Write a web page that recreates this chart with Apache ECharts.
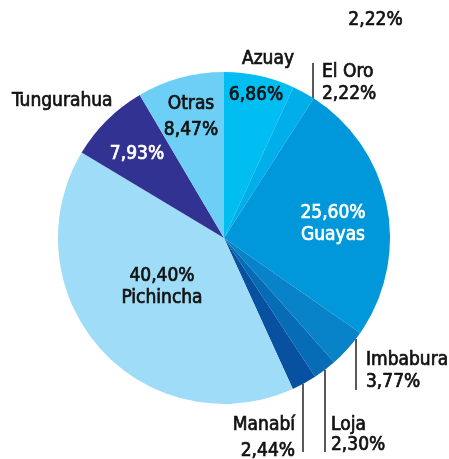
<!DOCTYPE html>
<html>
<head>
<meta charset="utf-8">
<script src="https://cdn.jsdelivr.net/npm/echarts@6/dist/echarts.min.js"></script>
<style>html,body{margin:0;padding:0;background:#fff}#c{width:449px;height:459px}</style>
</head>
<body>
<div id="c"></div>
<script>
const names = ['Azuay', 'El Oro', 'Guayas', 'Imbabura', 'Loja', 'Manabí', 'Pichincha', 'Tungurahua', 'Otras'];
const values = [6.86, 2.22, 25.60, 3.77, 2.30, 2.44, 40.40, 7.93, 8.47];
const colors = ['#00BEF2', '#00AFEA', '#0098DA', '#0882C8', '#066CB6', '#0850A0', '#9EDCF7', '#313292', '#6DCFF5'];
const strayLabel = '2,22%';

const FONT = '"DejaVu Sans Condensed", sans-serif';
const FS = 19;
const BW = 0.7;
const pct = v => v.toFixed(2).replace('.', ',') + '%';

const mainLayout = {
  'Azuay':      { x: 256, y: 95,  align: 'center', lh: 22, color: '#111', fmt: 'v' },
  'El Oro':     { x: 322, y: 83,  align: 'left',   lh: 22, color: '#111', fmt: 'nv', line: [[313, 99], [313, 81], [313, 63]] },
  'Guayas':     { x: 333, y: 224, align: 'center', lh: 22, color: '#fff', fmt: 'vn' },
  'Imbabura':   { x: 366, y: 371, align: 'left',   lh: 22, color: '#111', fmt: 'nv', line: [[356, 339], [356, 365], [356, 390]] },
  'Loja':       { x: 331, y: 435, align: 'left',   lh: 20, color: '#111', fmt: 'nv', line: [[325, 370], [325, 410], [325, 452]] },
  'Manabí':     { x: 295, y: 438, align: 'right',  lh: 26, color: '#111', fmt: 'nv', line: [[303, 384], [303, 420], [303, 452]] },
  'Pichincha':  { x: 162, y: 287, align: 'center', lh: 22, color: '#111', fmt: 'vn' },
  'Tungurahua': { x: 137, y: 154, align: 'center', lh: 22, color: '#fff', fmt: 'v' },
  'Otras':      { x: 191, y: 117, align: 'center', lh: 26, color: '#111', fmt: 'nv' }
};
const nameLayout = {
  'Azuay':      { x: 268, y: 59, align: 'center' },
  'Tungurahua': { x: 12,  y: 101, align: 'left' }
};

const mainData = names.map((n, i) => {
  const L = mainLayout[n];
  const v = pct(values[i]);
  const text = L.fmt === 'v' ? v : (L.fmt === 'nv' ? n + '\n' + v : v + '\n' + n);
  return {
    name: n, value: values[i],
    itemStyle: { color: colors[i] },
    label: { formatter: text, color: L.color, textBorderColor: L.color, textBorderWidth: BW, lineHeight: L.lh },
    labelLine: { show: !!L.line }
  };
});
const nameData = names.map((n, i) => ({
  name: n, value: values[i],
  itemStyle: { color: 'rgba(0,0,0,0)' },
  label: { show: !!nameLayout[n], formatter: n }
}));

const chart = echarts.init(document.getElementById('c'), null, { renderer: 'canvas' });
chart.setOption({
  animation: false,
  backgroundColor: '#fff',
  graphic: [{
    type: 'text', left: 348, top: 10,
    style: { text: strayLabel, font: FS + 'px ' + FONT, fill: '#111', stroke: '#111', lineWidth: BW }
  }],
  series: [{
    type: 'pie',
    center: [224, 238],
    radius: [0, 166],
    startAngle: 90,
    clockwise: true,
    avoidLabelOverlap: false,
    silent: true,
    itemStyle: { borderWidth: 0 },
    label: { show: true, position: 'outside', fontFamily: FONT, fontSize: FS, align: 'center' },
    labelLine: { show: true, lineStyle: { color: '#222', width: 1.5 }, length: 10, length2: 10 },
    labelLayout: function (p) {
      const L = mainLayout[names[p.dataIndex]];
      const r = { x: L.x, y: L.y, align: L.align, verticalAlign: 'middle' };
      if (L.line) r.labelLinePoints = L.line;
      return r;
    },
    data: mainData
  }, {
    type: 'pie',
    center: [224, 238],
    radius: [0, 166],
    startAngle: 90,
    clockwise: true,
    avoidLabelOverlap: false,
    silent: true,
    z: 3,
    itemStyle: { borderWidth: 0 },
    label: { show: true, position: 'outside', fontFamily: FONT, fontSize: FS, color: '#111', textBorderColor: '#111', textBorderWidth: BW },
    labelLine: { show: false },
    labelLayout: function (p) {
      const L = nameLayout[names[p.dataIndex]];
      if (!L) return {};
      return { x: L.x, y: L.y, align: L.align, verticalAlign: 'middle' };
    },
    data: nameData
  }]
});
</script>
</body>
</html>
